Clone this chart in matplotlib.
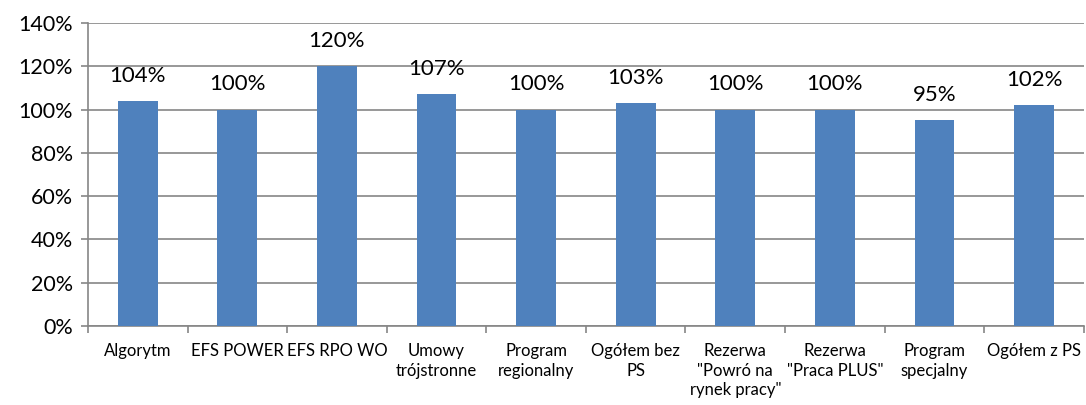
import matplotlib
matplotlib.use("Agg")
import matplotlib.pyplot as plt
import numpy as np

plt.rcParams['font.family'] = ['Lato', 'DejaVu Sans']

# Categories and values (percent)
categories = ["Algorytm", "EFS POWER", "EFS RPO WO", "Umowy\ntrójstronne",
              "Program\nregionalny", "Ogółem bez\nPS", "Rezerwa\n\"Powró na\nrynek pracy\"",
              "Rezerwa\n\"Praca PLUS\"", "Program\nspecjalny", "Ogółem z PS"]
values = [104, 100, 120, 107, 100, 103, 100, 100, 95, 102]
labels = ["104%", "100%", "120%", "107%", "100%", "103%", "100%", "100%", "95%", "102%"]

BAR_COLOR = "#4F81BD"
GRID_COLOR = "#868686"

fig = plt.figure(figsize=(10.86, 4.05), dpi=100)
ax = fig.add_axes([0.081, 0.195, 0.917, 0.748])

x = np.arange(len(categories))
ax.bar(x, values, width=0.4, color=BAR_COLOR, zorder=3)

# Data labels float above each bar
for xi, v, lab in zip(x, values, labels):
    ax.annotate(lab, (xi, v), xytext=(0, 11), textcoords="offset points",
                ha="center", va="bottom", fontsize=16)

ax.set_xlim(-0.5, len(categories) - 0.5)
ax.set_ylim(0, 140)
ax.set_yticks(range(0, 141, 20))
ax.set_yticklabels([f"{t}%" for t in range(0, 141, 20)], fontsize=15.5)
ax.yaxis.grid(True, color=GRID_COLOR, linewidth=1.2, zorder=0)

# Category labels centered, tick marks at the boundaries
ax.set_xticks(x)
ax.set_xticklabels(categories, fontsize=12, linespacing=1.3)
ax.tick_params(axis="x", length=0, pad=12)
ax.set_xticks(np.arange(-0.5, len(categories)), minor=True)
ax.tick_params(axis="x", which="minor", length=5, color=GRID_COLOR, width=1.2)
ax.tick_params(axis="y", length=5, color=GRID_COLOR, width=1.2, pad=6)

for s in ["top", "right"]:
    ax.spines[s].set_visible(False)
for s in ["left", "bottom"]:
    ax.spines[s].set_color(GRID_COLOR)
    ax.spines[s].set_linewidth(1.2)

fig.savefig("out.png", dpi=100)
